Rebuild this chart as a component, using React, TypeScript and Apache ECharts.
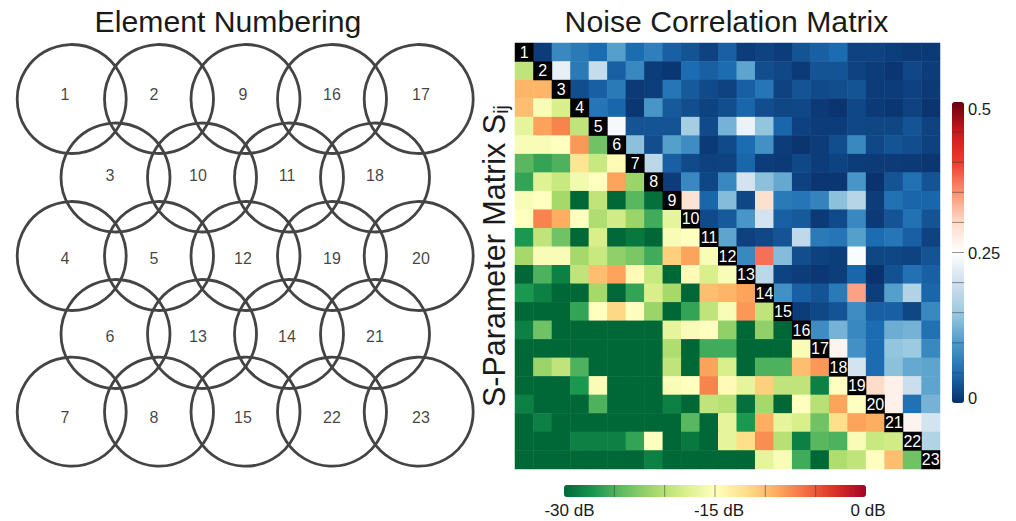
import React, { useEffect, useRef } from "react";
import * as echarts from "echarts";

const FONT = '"Liberation Sans", Arial, sans-serif';

const elementCircleColumnsA = [71.7, 159, 245.5, 332, 418.7];
const elementCircleColumnsB = [115.5, 202, 289, 375];
const elementCircleRows = [99, 177.5, 256, 334, 411.7];
const elementLabelColumnsA = [65, 154, 243, 332, 421];
const elementLabelColumnsB = [110, 198, 287, 375];
const elementLabelRows = [94, 175, 258, 336, 417];
const elementNumbers = [
  [1, 2, 9, 16, 17],
  [3, 10, 11, 18],
  [4, 5, 12, 19, 20],
  [6, 13, 14, 21],
  [7, 8, 15, 22, 23],
];

// Lower triangle: coupling in dB, row 2..23, columns 1..row-1
const couplingDb = [
  [-19.5],
  [-9.5, -9.5],
  [-10, -15.5, -18],
  [-17, -8.5, -7, -19.5],
  [-15.5, -15.5, -15, -8, -23.5],
  [-24.5, -26, -25, -12.5, -19, -14.5],
  [-26, -17.5, -19, -16, -15, -8.5, -21.5],
  [-15.5, -15, -21, -30, -19.5, -30, -24.5, -29.5],
  [-15, -7, -9, -15, -20.5, -18.5, -21.5, -25.5, -17],
  [-27, -19.5, -23.5, -30, -18, -30, -29, -30, -15.5, -15],
  [-21, -15.5, -15.5, -21, -19, -22, -23, -25.5, -11, -8.5, -15.5],
  [-30, -25, -28.5, -19.5, -10, -8.5, -14.5, -19, -30, -14.5, -18, -15.5],
  [-27, -28.5, -30, -30, -21, -30, -26, -18, -21, -30, -10, -9.5, -8.5],
  [-30, -30, -30, -26, -15, -11.5, -15, -21.5, -30, -26, -19.5, -15.5, -8, -19.5],
  [-28.5, -23.5, -30, -30, -30, -30, -30, -30, -17, -15.5, -15, -22, -30, -22, -30],
  [-30, -30, -30, -30, -30, -30, -30, -30, -20.5, -30, -25.5, -25.5, -30, -30, -30, -15.5],
  [-30, -21.5, -19.5, -25, -30, -30, -30, -30, -19.5, -30, -8.5, -18, -30, -25, -25, -10, -8],
  [-30, -30, -30, -27, -15.5, -30, -30, -30, -15.5, -15, -7, -14.5, -17, -11, -19.5, -19.5, -28.5, -15],
  [-28.5, -30, -30, -30, -25, -30, -30, -30, -28.5, -30, -19.5, -20, -29.5, -21, -30, -15, -20, -8.5, -15],
  [-30, -28.5, -30, -30, -30, -30, -30, -30, -30, -24.5, -30, -17, -27, -9, -17, -18, -23.5, -12, -8.5, -9],
  [-30, -30, -30, -28.5, -28.5, -28.5, -26, -15, -30, -29, -30, -17, -12, -7.5, -20, -28.5, -24.5, -25, -15.5, -19, -18.5],
  [-30, -30, -30, -30, -30, -30, -30, -28.5, -30, -30, -30, -30, -30, -17, -15.5, -25.5, -30, -20.5, -19.5, -15, -10, -23.5],
];

// Upper triangle: correlation, row 1..22, columns row+1..23
const correlation = [
  [.01, .08, .065, .05, .105, .05, .07, .04, .03, .015, .04, .01, .015, .01, .03, .04, .05, .015, .015, .012, .008, .008],
  [.225, .065, .19, .04, .08, .01, .005, .05, .04, .05, .11, .025, .02, .008, .03, .03, .015, .01, .006, .02, .01],
  [.025, .04, .065, .008, .012, .06, .035, .022, .015, .04, .06, .015, .03, .022, .025, .03, .01, .01, .014, .008],
  [.06, .045, .005, .095, .035, .025, .016, .025, .045, .025, .018, .02, .008, .004, .02, .008, .006, .015, .004],
  [.24, .03, .03, .03, .16, .022, .125, .23, .145, .045, .014, .01, .01, .02, .018, .018, .03, .015],
  [.14, .025, .105, .085, .008, .022, .05, .09, .01, .004, .01, .025, .08, .02, .03, .025, .014],
  [.18, .04, .022, .014, .015, .045, .01, .008, .02, .01, .016, .01, .009, .009, .008, .005],
  [.01, .08, .018, .08, .205, .14, .115, .014, .005, .005, .095, .002, .03, .055, .03],
  [.29, .045, .135, .018, .295, .065, .06, .075, .14, .175, .01, .055, .045, .045],
  [.022, .035, .095, .205, .04, .035, .008, .022, .08, .008, .03, .055, .03],
  [.11, .014, .02, .03, .185, .065, .06, .105, .05, .06, .04, .015],
  [.08, .37, .135, .025, .014, .012, .245, .018, .018, .016, .03],
  [.18, .016, .01, .007, .012, .045, .002, .028, .055, .04],
  [.09, .04, .03, .065, .34, .012, .105, .17, .045],
  [.01, .02, .03, .085, .04, .04, .018, .08],
  [.085, .125, .08, .05, .12, .125, .055],
  [.265, .09, .05, .145, .15, .08],
  [.205, .05, .14, .115, .11],
  [.3, .27, .195, .11],
  [.27, .055, .125],
  [.265, .205],
  [.17],
];

const matrixLabels = Array.from({ length: 23 }, (_, i) => String(i + 1));
const dbStops = ["#006837", "#1a9850", "#66bd63", "#a6d96a", "#d9ef8b", "#ffffbf", "#fee08b", "#fdae61", "#f46d43", "#d73027", "#a50026"];
const corrStops = ["#08306b", "#1c6cb1", "#4d9ac9", "#9ccae0", "#cfe0ee", "#ffffff", "#fddcc9", "#fc9272", "#ef3b2c", "#cb181d", "#67000d"];
const dbTickLabels = ["-30 dB", "-15 dB", "0 dB"];
const corrTickLabels = ["0.5", "0.25", "0"];

export default function App() {
  const ref = useRef<HTMLDivElement>(null);
  useEffect(() => {
    const chart = echarts.init(ref.current!, undefined, { renderer: "svg" });

    const lower: number[][] = [];
    couplingDb.forEach((row, r) => row.forEach((v, c) => lower.push([c, r + 1, v])));
    const upper: number[][] = [];
    correlation.forEach((row, r) => row.forEach((v, c) => upper.push([r + c + 1, r, v])));
    const diagonal = matrixLabels.map((l, i) => [i, i, Number(l)]);

    const circles: number[][] = [];
    const labels: number[][] = [];
    elementNumbers.forEach((row, r) => {
      const cc = r % 2 === 0 ? elementCircleColumnsA : elementCircleColumnsB;
      const lc = r % 2 === 0 ? elementLabelColumnsA : elementLabelColumnsB;
      row.forEach((n, c) => {
        circles.push([cc[c], elementCircleRows[r]]);
        labels.push([lc[c], elementLabelRows[r], n]);
      });
    });

    const barTick = (x1: number, y1: number, x2: number, y2: number) => ({
      type: "line", silent: true, z: 100,
      shape: { x1, y1, x2, y2 },
      style: { stroke: "rgba(60,60,60,0.55)", lineWidth: 1 },
    });
    const txt = (text: string, x: number, y: number, fontSize: number, align: string) => ({
      type: "text", x, y, z: 100, silent: true,
      style: { text, fontSize, fontFamily: FONT, fill: "#1a1a1a", align, verticalAlign: "middle" },
    });

    chart.setOption({
      animation: false,
      backgroundColor: "#ffffff",
      textStyle: { fontFamily: FONT },
      title: [
        { text: "Element Numbering", left: 223, top: 1, textAlign: "center", textStyle: { fontSize: 30.2, fontWeight: "normal", color: "#1a1a1a", fontFamily: FONT } },
        { text: "Noise Correlation Matrix", left: 721.5, top: 1, textAlign: "center", textStyle: { fontSize: 30.2, fontWeight: "normal", color: "#1a1a1a", fontFamily: FONT } },
      ],
      grid: [
        { left: 515, top: 43, width: 425, height: 426 },
        { left: 0, top: 0, width: 490, height: 521 },
      ],
      xAxis: [
        { type: "category", gridIndex: 0, data: matrixLabels, show: false },
        { type: "value", gridIndex: 1, min: 0, max: 490, show: false },
      ],
      yAxis: [
        {
          type: "category", gridIndex: 0, data: matrixLabels, inverse: true,
          axisLine: { show: false }, axisTick: { show: false }, axisLabel: { show: false }, splitLine: { show: false },
          name: "{a|S-Parameter Matrix S}{b|ij}",
          nameLocation: "middle", nameRotate: 90, nameGap: 4,
          nameTextStyle: {
            rich: {
              a: { fontSize: 30.5, fontFamily: FONT, color: "#1a1a1a" },
              b: { fontSize: 20, fontFamily: FONT, color: "#1a1a1a", verticalAlign: "bottom", padding: [14, 0, 0, 0] },
            },
          },
        },
        { type: "value", gridIndex: 1, min: 0, max: 521, inverse: true, show: false },
      ],
      visualMap: [
        {
          type: "continuous", seriesIndex: 0, min: -30, max: 0, orient: "horizontal",
          left: 564, top: 485, itemWidth: 12, itemHeight: 302, padding: 0, text: ["", ""], calculable: false, hoverLink: false,
          inRange: { color: dbStops },
        },
        {
          type: "continuous", seriesIndex: 1, min: 0, max: 0.5, orient: "vertical",
          left: 952, top: 102, itemWidth: 12, itemHeight: 301, padding: 0, text: ["", ""], calculable: false, hoverLink: false,
          inRange: { color: corrStops },
        },
        {
          type: "continuous", seriesIndex: 2, min: 0, max: 24, show: false,
          inRange: { color: ["#000000", "#000000"] },
        },
      ],
      series: [
        { type: "heatmap", xAxisIndex: 0, yAxisIndex: 0, data: lower, itemStyle: { borderWidth: 0 } },
        { type: "heatmap", xAxisIndex: 0, yAxisIndex: 0, data: upper, itemStyle: { borderWidth: 0 } },
        {
          type: "heatmap", xAxisIndex: 0, yAxisIndex: 0, data: diagonal,
          itemStyle: { borderWidth: 0 },
          label: { show: true, color: "#ffffff", fontSize: 16, fontFamily: FONT, formatter: (p: any) => String(p.value[2]) },
        },
        {
          type: "scatter", xAxisIndex: 1, yAxisIndex: 1, data: circles, symbol: "circle", symbolSize: 109,
          itemStyle: { color: "transparent", borderColor: "#444444", borderWidth: 2.8, opacity: 1 },
          silent: true,
        },
        {
          type: "scatter", xAxisIndex: 1, yAxisIndex: 1, data: labels, symbol: "circle", symbolSize: 1,
          itemStyle: { color: "transparent" },
          label: { show: true, position: "inside", color: "#111111", fontSize: 16, fontFamily: FONT, formatter: (p: any) => String(p.value[2]) },
          silent: true,
        },
      ],
      graphic: [
        ...[1, 2, 3, 4, 5].map((i) => barTick(564 + (302 * i) / 6, 485, 564 + (302 * i) / 6, 497)),
        ...[1, 2, 3, 4, 5, 6, 7, 8, 9].map((i) => barTick(952, 102 + (301 * i) / 10, 964, 102 + (301 * i) / 10)),
        txt(dbTickLabels[0], 569.5, 510.5, 17, "center"),
        txt(dbTickLabels[1], 719, 510.5, 17, "center"),
        txt(dbTickLabels[2], 868, 510.5, 17, "center"),
        txt(corrTickLabels[0], 968, 109, 16.5, "left"),
        txt(corrTickLabels[1], 968, 253, 16.5, "left"),
        txt(corrTickLabels[2], 968, 398, 16.5, "left"),
      ],
    });
    return () => chart.dispose();
  }, []);
  return <div ref={ref} style={{ position: "fixed", left: 0, top: 0, width: 1016, height: 521 }} />;
}
